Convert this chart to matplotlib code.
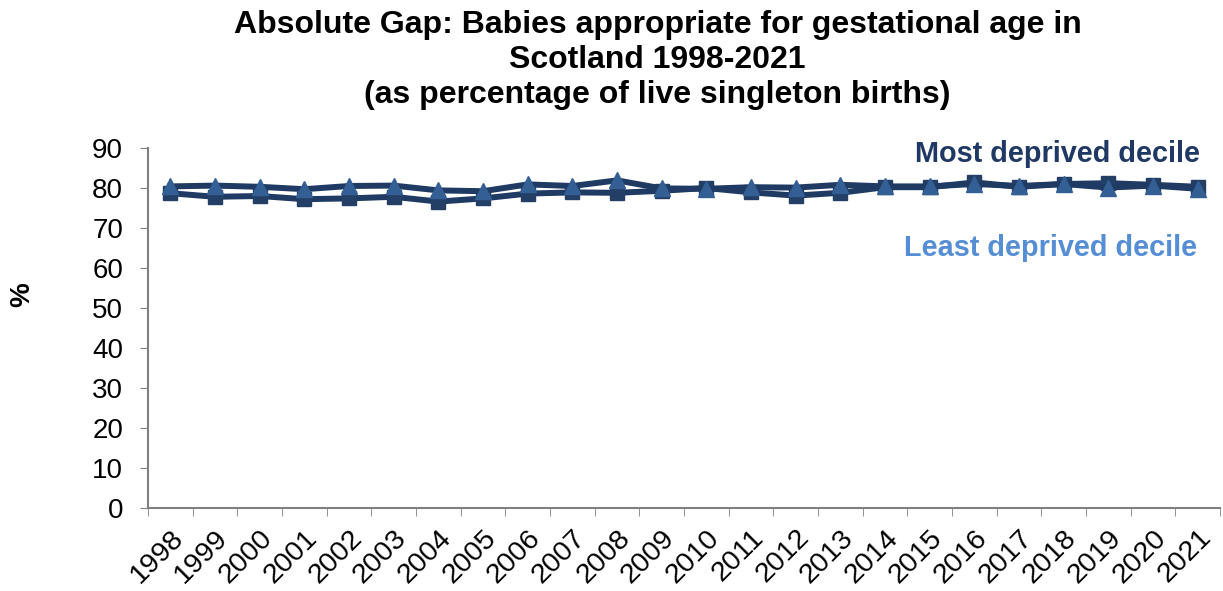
import matplotlib.pyplot as plt
import matplotlib.transforms as mtransforms
import numpy as np

plt.rcParams['font.family'] = ['Liberation Sans', 'DejaVu Sans']

years = [str(y) for y in range(1998, 2022)]

# % of live singleton births appropriate for gestational age
most_deprived = [78.7, 77.8, 78.0, 77.2, 77.4, 77.8, 76.6, 77.4, 78.6, 78.9, 78.8, 79.3,
                 80.0, 78.9, 78.1, 78.8, 80.2, 80.2, 81.4, 80.3, 81.0, 81.2, 80.8, 80.3]
least_deprived = [80.4, 80.6, 80.3, 79.7, 80.5, 80.6, 79.4, 79.2, 80.9, 80.5, 81.9, 79.9,
                  79.8, 80.2, 80.1, 80.8, 80.4, 80.4, 81.0, 80.5, 81.0, 80.1, 80.6, 79.8]

x = np.arange(len(years))

fig = plt.figure(figsize=(12.23, 5.91), dpi=100)
ax = fig.add_axes([148/1223, 1 - 508/591, (1220-148)/1223, 360/591])

ax.plot(x, most_deprived, color='#1F3B63', lw=4.3, marker='s', ms=9.5,
        mfc='#243F66', mec='#243F66', zorder=3)
ax.plot(x, least_deprived, color='#1F3B63', lw=4.3, marker='^', ms=11,
        mfc='#335F94', mec='#335F94', zorder=4)

ax.set_xlim(-0.5, len(years) - 0.5)
ax.set_ylim(0, 90)
ax.set_yticks(range(0, 91, 10))
ax.set_xticks(x)
ax.set_xticklabels(years, rotation=45, ha='right', rotation_mode='anchor', fontsize=20.5)
shift = mtransforms.ScaledTranslation(-4/100, 0, fig.dpi_scale_trans)
for lbl in ax.get_xticklabels():
    lbl.set_transform(lbl.get_transform() + shift)
ax.set_xticks(np.arange(-0.5, len(years), 1), minor=True)
ax.tick_params(axis='x', which='major', length=0, pad=12)
ax.tick_params(axis='x', which='minor', length=6, color='#808080', direction='out')
ax.tick_params(axis='y', labelsize=20, length=6, color='#808080', direction='out', pad=12)

for side in ['top', 'right']:
    ax.spines[side].set_visible(False)
for side in ['left', 'bottom']:
    ax.spines[side].set_color('#808080')
    ax.spines[side].set_linewidth(1.5)

fig.text(22/1223, 1 - 295/591, '%', rotation=90, ha='center', va='center',
         fontsize=20, fontweight='bold')

fig.text(0.5376, 1 - 10/591, 'Absolute Gap: Babies appropriate for gestational age in\n'
         'Scotland 1998-2021\n(as percentage of live singleton births)',
         ha='center', va='top', fontsize=23, fontweight='bold', linespacing=1.22)

fig.text(1200/1223, 1 - 154/591, 'Most deprived decile',
         ha='right', va='center', fontsize=20.8, fontweight='bold', color='#1F3864')
fig.text(1197/1223, 1 - 248/591, 'Least deprived decile',
         ha='right', va='center', fontsize=20.8, fontweight='bold', color='#558ED5')

fig.savefig('out.png', dpi=100)
